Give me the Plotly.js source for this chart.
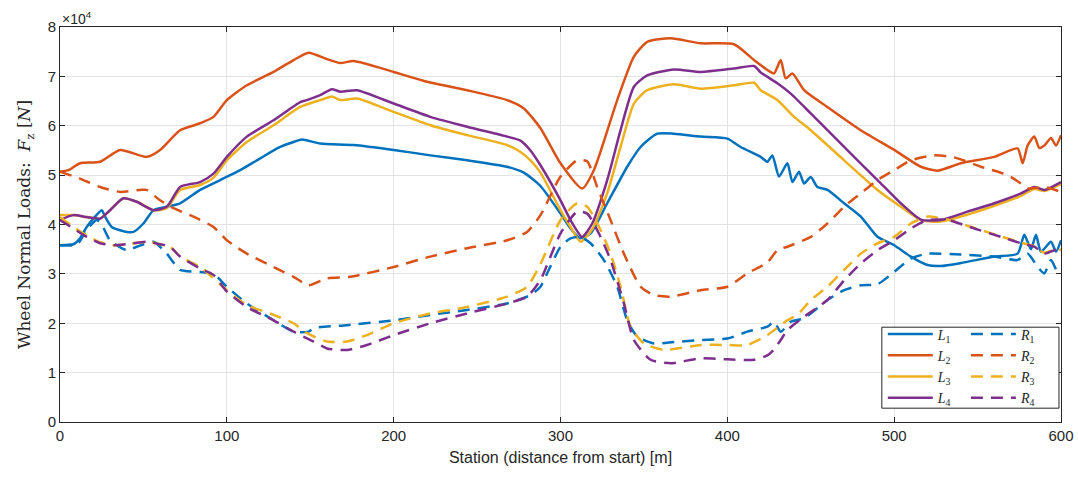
<!DOCTYPE html>
<html>
<head>
<meta charset="utf-8">
<script src="https://cdn.plot.ly/plotly-3.0.1.min.js"></script>
<style>html,body{margin:0;padding:0;background:#fff;}#chart{width:1078px;height:480px;}</style>
</head>
<body>
<div id="chart"></div>
<script>
// Values in units of 10^4 N
var L1_x = [0,8,12,16,20,25,27,31,40,44,50,56,64,72,84,96,108,120,132,140,145,156,176,200,222,244,268,278,288,300,306,312,318,328,340,348,358,368,384,400,408,420,424,427,431,436,439,443,446,450,454,460,470,480,490,500,510,520,528,540,560,574,578,582,585,588,594,597,600];
var L1_y = [3.58,3.6,3.72,3.95,4.12,4.29,4.16,3.95,3.85,3.85,4.02,4.29,4.36,4.43,4.70,4.90,5.10,5.34,5.57,5.67,5.72,5.64,5.61,5.51,5.40,5.30,5.17,5.05,4.78,4.22,3.92,3.72,3.82,4.43,5.17,5.57,5.84,5.84,5.78,5.74,5.57,5.37,5.27,5.40,4.97,5.24,4.86,5.07,4.83,4.96,4.76,4.70,4.43,4.16,3.75,3.58,3.35,3.18,3.16,3.22,3.35,3.41,3.79,3.5,3.79,3.45,3.65,3.45,3.68];

var L2_x = [0,5,12,24,36,52,60,72,84,92,100,112,128,140,149,160,168,176,200,220,244,268,278,288,300,313,320,334,344,352,366,384,404,416,424,428,432,435,439,446,460,480,500,516,526,540,560,574,577,580,584,587,590,594,597,600];
var L2_y = [5.07,5.1,5.24,5.27,5.51,5.37,5.51,5.91,6.05,6.18,6.52,6.82,7.09,7.33,7.48,7.35,7.27,7.31,7.09,6.89,6.72,6.52,6.35,5.95,5.24,4.73,5.10,6.52,7.40,7.70,7.77,7.67,7.65,7.33,7.13,7.06,7.33,6.96,7.06,6.72,6.38,5.91,5.51,5.17,5.09,5.24,5.37,5.54,5.24,5.6,5.78,5.55,5.6,5.75,5.6,5.81];

var L3_x = [0,8,16,24,30,38,46,56,64,72,84,92,100,112,128,144,156,163,168,178,200,222,244,268,276,282,288,300,306,312,319,328,336,344,352,368,384,404,416,420,430,440,450,470,490,504,516,528,544,560,576,584,590,600];
var L3_y = [4.19,4.19,4.15,4.12,4.29,4.53,4.46,4.29,4.33,4.70,4.80,4.95,5.30,5.67,6.01,6.38,6.52,6.59,6.52,6.55,6.28,6.01,5.81,5.61,5.47,5.3,5.05,4.29,3.95,3.65,3.90,4.63,5.57,6.45,6.72,6.84,6.75,6.82,6.87,6.72,6.52,6.18,5.91,5.30,4.70,4.36,4.09,4.06,4.20,4.38,4.58,4.72,4.68,4.82];

var L4_x = [0,8,16,24,30,38,46,56,64,72,84,92,100,112,128,144,148,156,163,168,178,200,222,244,268,276,282,288,300,306,313,319,328,336,344,352,368,384,404,416,420,430,438,450,470,490,504,516,528,544,560,576,584,590,600];
var L4_y = [4.09,4.19,4.15,4.12,4.29,4.53,4.46,4.29,4.36,4.76,4.86,5.03,5.37,5.78,6.11,6.48,6.52,6.62,6.74,6.69,6.72,6.45,6.18,5.98,5.78,5.70,5.5,5.2,4.49,4.09,3.75,4.02,4.90,5.91,6.79,7.02,7.14,7.09,7.16,7.21,7.08,6.86,6.65,6.25,5.57,4.90,4.43,4.10,4.09,4.26,4.43,4.63,4.76,4.70,4.86];

var R1_x = [0,5,10,16,22,25,30,40,46,56,64,72,84,92,100,112,128,140,149,152,172,200,222,244,268,282,288,292,300,306,312,318,326,334,340,346,356,368,384,400,412,424,428,432,438,446,460,470,480,490,500,510,520,540,560,574,580,586,590,594,598,600];
var R1_y = [3.58,3.58,3.58,3.89,4.09,4.0,3.68,3.48,3.55,3.65,3.41,3.08,3.04,3.0,2.74,2.40,2.06,1.83,1.83,1.90,1.96,2.06,2.17,2.27,2.40,2.57,2.74,3.01,3.55,3.72,3.75,3.62,3.28,2.74,2.06,1.73,1.59,1.62,1.66,1.69,1.83,1.93,2.03,1.83,2.03,2.10,2.47,2.67,2.77,2.79,3.04,3.31,3.41,3.39,3.35,3.28,3.41,3.14,3.01,3.28,3.04,3.1];

var R2_x = [0,12,24,36,48,52,60,68,80,92,100,112,128,140,149,160,174,200,222,244,268,280,288,300,310,316,322,330,338,348,356,366,384,400,412,424,430,436,440,450,460,470,480,490,500,510,524,536,552,568,576,580,590,600];
var R2_y = [5.07,4.93,4.76,4.66,4.70,4.70,4.49,4.33,4.16,3.95,3.68,3.41,3.14,2.94,2.77,2.91,2.94,3.14,3.35,3.52,3.68,3.85,4.19,4.97,5.30,5.28,4.76,4.09,3.41,2.74,2.57,2.54,2.67,2.74,3.01,3.23,3.48,3.55,3.60,3.75,4.02,4.36,4.63,4.90,5.10,5.30,5.40,5.36,5.17,5.0,4.83,4.73,4.76,4.66];

var R3_x = [0,8,16,24,32,40,52,60,66,72,84,100,112,128,140,148,160,172,184,200,222,244,268,280,288,300,310,316,324,330,336,342,350,362,384,400,412,424,428,432,436,442,450,460,470,480,490,500,510,520,532,548,564,576,584,590,596,600];
var R3_y = [4.15,3.95,3.78,3.64,3.58,3.60,3.65,3.60,3.55,3.35,3.14,2.67,2.37,2.17,2.0,1.80,1.63,1.63,1.76,2.0,2.20,2.33,2.54,2.74,3.2,4.09,4.43,4.36,3.89,3.41,2.74,1.93,1.59,1.46,1.56,1.56,1.56,1.76,1.86,1.96,2.06,2.17,2.47,2.74,3.08,3.41,3.62,3.75,4.02,4.16,4.10,3.93,3.76,3.63,3.56,3.43,3.49,3.49];

var R4_x = [0,8,16,24,32,40,52,60,66,72,84,92,100,112,128,140,152,160,172,184,200,222,244,268,280,288,300,310,316,324,330,338,344,354,366,384,400,416,424,428,432,436,446,460,470,480,490,500,510,520,532,548,564,576,584,590,596,600];
var R4_y = [4.09,3.92,3.75,3.62,3.58,3.60,3.65,3.60,3.55,3.35,3.11,2.98,2.64,2.33,2.06,1.83,1.63,1.49,1.46,1.56,1.76,2.0,2.20,2.40,2.54,2.88,3.82,4.26,4.22,3.75,3.28,2.40,1.66,1.26,1.19,1.29,1.27,1.26,1.35,1.47,1.66,1.86,2.13,2.47,2.87,3.21,3.48,3.68,3.92,4.09,4.09,3.92,3.75,3.62,3.55,3.41,3.48,3.48];

var colors = ['#0072BD', '#D95319', '#EDB120', '#7E2F8E'];
var Lnames = ['<i>L</i><sub>1</sub>', '<i>L</i><sub>2</sub>', '<i>L</i><sub>3</sub>', '<i>L</i><sub>4</sub>'];
var Rnames = ['<i>R</i><sub>1</sub>', '<i>R</i><sub>2</sub>', '<i>R</i><sub>3</sub>', '<i>R</i><sub>4</sub>'];
var Lx = [L1_x, L2_x, L3_x, L4_x], Ly = [L1_y, L2_y, L3_y, L4_y];
var Rx = [R1_x, R2_x, R3_x, R4_x], Ry = [R1_y, R2_y, R3_y, R4_y];

var traces = [];
for (var i = 0; i < 4; i++) {
  traces.push({x: Lx[i], y: Ly[i], type: 'scatter', mode: 'lines', name: Lnames[i],
    line: {color: colors[i], width: 2.5, shape: 'spline', smoothing: 0.6}, legend: 'legend'});
}
for (var j = 0; j < 4; j++) {
  traces.push({x: Rx[j], y: Ry[j], type: 'scatter', mode: 'lines', name: Rnames[j],
    line: {color: colors[j], width: 2.5, dash: '12px,8px', shape: 'spline', smoothing: 0.6}, legend: 'legend2'});
}

var axisCommon = {
  showgrid: true, gridcolor: '#e3e3e3', gridwidth: 1, zeroline: false,
  showline: true, linecolor: '#262626', linewidth: 1, mirror: 'ticks',
  ticks: 'inside', ticklen: 5, tickcolor: '#262626',
  tickfont: {family: 'Liberation Sans, Arial, sans-serif', size: 15, color: '#262626'}
};

var legendFont = {family: 'Liberation Serif, DejaVu Serif, serif', size: 14, color: '#262626'};

var layout = {
  width: 1078, height: 480,
  margin: {l: 60, r: 17, t: 27, b: 58},
  paper_bgcolor: '#ffffff', plot_bgcolor: '#ffffff',
  showlegend: true,
  xaxis: Object.assign({}, axisCommon, {
    range: [0, 600], dtick: 100, tick0: 0,
    title: {text: 'Station (distance from start) [m]', standoff: 8,
      font: {family: 'Liberation Sans, Arial, sans-serif', size: 16, color: '#262626'}}
  }),
  yaxis: Object.assign({}, axisCommon, {
    range: [0, 8], dtick: 1, tick0: 0,
    title: {text: 'Wheel Normal Loads:  <i>F</i><sub>z</sub> [<i>N</i>]', standoff: 12,
      font: {family: 'DejaVu Serif, Liberation Serif, serif', size: 17, color: '#262626'}}
  }),
  legend: {x: 0.822, y: 0.262, xanchor: 'left', yanchor: 'top', bgcolor: 'rgba(0,0,0,0)',
    borderwidth: 0, tracegroupgap: 0, itemwidth: 45, font: legendFont},
  legend2: {x: 0.905, y: 0.262, xanchor: 'left', yanchor: 'top', bgcolor: 'rgba(0,0,0,0)',
    borderwidth: 0, tracegroupgap: 0, itemwidth: 45, font: legendFont},
  shapes: [{type: 'rect', xref: 'paper', yref: 'paper', x0: 0.821, x1: 0.998, y0: 0.035, y1: 0.240,
    line: {color: '#262626', width: 1}, fillcolor: '#ffffff', layer: 'above'}],
  annotations: [{xref: 'paper', yref: 'paper', x: 0, y: 1, xanchor: 'left', yanchor: 'bottom',
    text: '×10<sup>4</sup>', showarrow: false, yshift: -2,
    font: {family: 'Liberation Sans, Arial, sans-serif', size: 14, color: '#262626'}}]
};

Plotly.newPlot('chart', traces, layout, {displayModeBar: false, staticPlot: true});
</script>
</body>
</html>
